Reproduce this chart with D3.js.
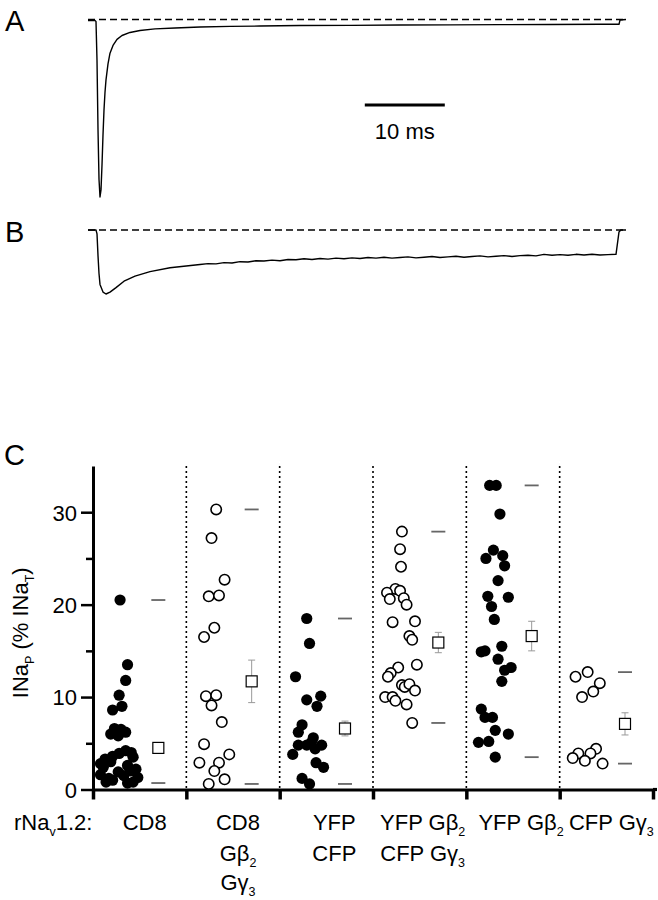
<!DOCTYPE html>
<html><head><meta charset="utf-8">
<script src="https://cdn.jsdelivr.net/npm/d3@7"></script>
<style>
body{margin:0;background:#fff}
svg{display:block}
text{font-family:"Liberation Sans",Arial,Helvetica,sans-serif;fill:#000}
</style>
</head><body>
<svg id="chart" width="658" height="900"></svg>
<script>
// ---------- Trace data (time in ms, current in % of peak) ----------
const traceA_t = [0,0.875,1.0,1.125,1.25,1.375,1.5,1.625,1.75,1.875,2.0,2.125,2.25,2.5,2.75,3.125,3.625,4.25,5.25,6.5,8.375,10.875,14,17.75,21.5,26.5,32.75,39,45.25,51.5,57.75,64,66.375,66.5,67.25];
const traceA_i = [-0.6,-0.6,-1.1,-23,-62,-90,-100,-96,-82,-65,-51,-41,-34,-25,-19,-14.6,-11.2,-9.0,-7.3,-6.2,-5.3,-4.8,-4.2,-3.9,-3.7,-3.4,-3.3,-3.1,-3.0,-2.9,-2.8,-2.7,-2.7,-0.3,0];

const traceB_t = [0,1.0,1.125,1.25,1.375,1.5,1.875,2.25,2.75,3.5,4.5,5.875,7.75,10.25,
  14,15,16,17,18,19,20,21,22,23,24,25,26,27,28,29,30,31,32,33,34,35,36,37,38,39,40,41,42,43,44,45,46,47,48,49,50,51,52,53,54,55,56,57,58,59,60,61,62,63,64,65,66,66.375,66.6,67.25];
const traceB_i = [0,0,-6,-40,-68,-85,-97,-100,-97,-90,-80,-72,-65,-59,
  -54,-52.5,-53,-51,-51.5,-49.5,-50,-48,-48.5,-47,-48,-46,-46.5,-45,-46,-44.5,-45.5,-44,-45,-43.5,-44.5,-43,-44,-42.5,-44,-43,-42,-43.5,-42.5,-41.5,-43,-42,-41,-42.5,-41.5,-40.5,-42,-41,-40,-41.5,-40,-39.5,-40.5,-38,-39.5,-38.5,-39.5,-38,-39,-38,-39,-38.5,-38,-3,0,0];

const scaleBarMs = [34.6, 44.6];
const scaleBarLabel = "10 ms";

// ---------- Scatter data ----------
const groups = ["g1","g2","g3","g4","g5","g6"];
const groupLabels = [
  ["CD8"],
  ["CD8","Gβ{2}","Gγ{3}"],
  ["YFP","CFP"],
  ["YFP Gβ{2}","CFP Gγ{3}"],
  ["YFP Gβ{2}"],
  ["CFP Gγ{3}"]
];
const groupFilled = [true,false,true,false,true,false];
// each point: [jitter (fraction of the group width), INaP value in % INaT]
const pts1 = [[0.29,20.5],[0.37,13.5],[0.35,11.8],[0.28,10.2],[0.31,9.0],[0.21,8.6],
  [0.23,6.6],[0.30,6.5],[0.35,6.2],[0.27,5.8],[0.19,6.0],
  [0.35,4.2],[0.28,3.9],[0.43,3.5],[0.13,3.3],[0.19,3.0],[0.08,2.8],[0.11,2.4],[0.46,2.2],[0.37,2.6],
  [0.27,1.9],[0.33,1.5],[0.17,1.2],[0.21,1.0],[0.14,0.8],[0.43,0.8],[0.37,0.7],[0.08,1.6],[0.21,3.6],
  [0.40,2.0],[0.48,1.3],[0.41,4.0]];
const pts2 = [[0.32,30.3],[0.27,27.2],[0.41,22.7],[0.24,20.9],[0.35,21.0],[0.30,17.5],[0.19,16.5],
  [0.21,10.1],[0.32,10.2],[0.27,9.1],[0.38,7.3],[0.19,4.9],[0.46,3.8],[0.14,2.9],[0.35,2.9],
  [0.30,2.0],[0.41,1.1],[0.24,0.6]];
const pts3 = [[0.29,18.5],[0.32,15.8],[0.17,12.2],[0.44,10.1],[0.29,9.7],[0.40,9.0],[0.24,7.0],
  [0.20,6.2],[0.36,5.6],[0.20,4.8],[0.29,4.8],[0.38,4.4],[0.45,4.8],[0.34,5.1],[0.14,3.8],
  [0.39,2.9],[0.47,2.4],[0.24,1.2],[0.32,0.6]];
const pts4 = [[0.31,27.9],[0.29,26.0],[0.30,24.1],[0.24,21.7],[0.15,21.3],[0.29,21.5],[0.18,20.6],
  [0.33,20.7],[0.36,20.0],[0.21,18.1],[0.45,18.2],[0.39,16.6],[0.42,16.2],[0.47,13.5],[0.27,13.2],
  [0.19,12.6],[0.16,12.2],[0.31,11.3],[0.34,11.1],[0.39,11.4],[0.45,10.7],[0.13,10.0],[0.21,10.0],
  [0.24,9.6],[0.36,9.2],[0.42,7.2]];
const pts5 = [[0.25,32.9],[0.32,32.9],[0.36,29.8],[0.29,25.9],[0.21,25.0],[0.39,25.3],[0.41,24.2],
  [0.34,22.6],[0.23,20.9],[0.45,20.8],[0.27,19.8],[0.30,18.4],[0.16,14.9],[0.20,15.0],[0.38,15.5],
  [0.34,14.1],[0.41,12.9],[0.48,13.2],[0.38,11.7],[0.16,8.7],[0.20,7.8],[0.28,7.8],[0.31,6.4],
  [0.45,6.0],[0.13,5.1],[0.24,5.2],[0.31,3.5]];
const pts6 = [[0.17,12.2],[0.30,12.7],[0.43,11.5],[0.36,10.6],[0.24,10.0],[0.39,4.4],[0.20,3.9],
  [0.33,3.9],[0.14,3.4],[0.27,3.1],[0.46,2.8]];
const groupPoints = [pts1,pts2,pts3,pts4,pts5,pts6];
const groupMean = [4.5, 11.7, 6.6, 15.9, 16.6, 7.1];
const groupSEM  = [0.5, 2.3, 0.8, 1.1, 1.6, 1.2];
const yTicks = [0,10,20,30];
const yMinorTicks = [5,15,25];
const yLabel = "INa{P} (% INa{T})";
const rowLead = "rNa{v}1.2:";

// ---------- Drawing ----------
const svg = d3.select("#chart");
const FONT = 22;
const SUB = 12.5;
const SUBSHIFT = 5.5;
const labelShift = [5,5,8,3,8,5];

function rich(sel, str, size, subSize, subShift){
  const parts = str.split(/(\{[^}]*\})/).filter(s=>s.length);
  let shifted = false;
  parts.forEach(p=>{
    if(p[0]==="{"){
      sel.append("tspan").attr("font-size",subSize).attr("dy",shifted?0:subShift).text(p.slice(1,-1));
      shifted = true;
    } else {
      sel.append("tspan").attr("font-size",size).attr("dy",shifted?-subShift:0).text(p);
      shifted = false;
    }
  });
  return sel;
}

// Traces
const xT = d3.scaleLinear().domain([0,67.25]).range([88,626]);
const yA = d3.scaleLinear().domain([-100,0]).range([197,19.5]);
const yB = d3.scaleLinear().domain([-100,0]).range([294,230]);

function drawTrace(ts, is, yS){
  const line = d3.line().x((d,i)=>xT(ts[i])).y((d,i)=>yS(is[i]));
  svg.append("path").attr("d", line(ts)).attr("fill","none").attr("stroke","#000").attr("stroke-width",1.4).attr("stroke-linejoin","round");
  svg.append("line").attr("x1",xT(0)).attr("x2",xT(67.25)).attr("y1",yS(0)).attr("y2",yS(0))
    .attr("stroke","#000").attr("stroke-width",1.5).attr("stroke-dasharray","7,4");
}
drawTrace(traceA_t, traceA_i, yA);
drawTrace(traceB_t, traceB_i, yB);

svg.append("line").attr("x1",xT(scaleBarMs[0])).attr("x2",xT(scaleBarMs[1])).attr("y1",105).attr("y2",105)
  .attr("stroke","#000").attr("stroke-width",3);
svg.append("text").attr("x",(xT(scaleBarMs[0])+xT(scaleBarMs[1]))/2).attr("y",139).attr("text-anchor","middle")
  .attr("font-size",FONT).text(scaleBarLabel);

svg.append("text").attr("x",5).attr("y",31).attr("font-size",29).text("A");
svg.append("text").attr("x",5).attr("y",242).attr("font-size",29).text("B");
svg.append("text").attr("x",4).attr("y",465).attr("font-size",29).text("C");

// Scatter
const x = d3.scaleBand().domain(groups).range([93,653]).paddingInner(0).paddingOuter(0);
const xLin = d3.scaleLinear().domain([0,groups.length]).range([93,653]);
const y = d3.scaleLinear().domain([0,35]).range([789.5,466]);
const bw = x.bandwidth();
const markerFrac = 0.70;

// dotted separators
svg.append("g").selectAll("line").data(d3.range(1,groups.length)).join("line")
  .attr("x1",d=>xLin(d)).attr("x2",d=>xLin(d)).attr("y1",y(35)).attr("y2",y(0))
  .attr("stroke","#000").attr("stroke-width",1.6).attr("stroke-dasharray","2,3");

// y axis
const yAxis = svg.append("g").attr("transform","translate(93,0)")
  .call(d3.axisLeft(y).tickValues(yTicks).tickSize(12).tickSizeOuter(0).tickPadding(4));
yAxis.select(".domain").attr("stroke-width",3);
yAxis.selectAll(".tick line").attr("stroke-width",2.5);
yAxis.selectAll(".tick text").attr("font-size",FONT).attr("font-family","Liberation Sans, Arial, sans-serif").attr("dy","0.36em");
const yMinor = svg.append("g").attr("transform","translate(93,0)")
  .call(d3.axisLeft(y).tickValues(yMinorTicks).tickSize(7).tickFormat(""));
yMinor.select(".domain").remove();
yMinor.selectAll(".tick line").attr("stroke-width",2.5);

// x axis
const xAxis = svg.append("g").attr("transform",`translate(0,${y(0)})`)
  .call(d3.axisBottom(xLin).tickValues(d3.range(0,groups.length+1)).tickSize(10).tickSizeOuter(0).tickFormat(""));
xAxis.select(".domain").attr("stroke-width",3.2);
xAxis.selectAll(".tick line").attr("stroke-width",3.5);
svg.append("line").attr("x1",xLin(groups.length)).attr("x2",657).attr("y1",y(0)).attr("y2",y(0)).attr("stroke","#000").attr("stroke-width",3.2);

// y label
const yl = svg.append("text").attr("transform",`translate(28,${(y(0)+y(35))/2 + 5}) rotate(-90)`)
  .attr("text-anchor","middle");
rich(yl, yLabel, FONT, SUB, SUBSHIFT);

// points
groups.forEach((g,gi)=>{
  const gx = x(g);
  const gsel = svg.append("g");
  gsel.selectAll("circle").data(groupPoints[gi]).join("circle")
    .attr("cx",d=>gx + d[0]*bw).attr("cy",d=>y(d[1]))
    .attr("r", groupFilled[gi] ? 5.6 : 5.2)
    .attr("fill", groupFilled[gi] ? "#000" : "#fff")
    .attr("stroke","#000").attr("stroke-width", groupFilled[gi] ? 0 : 1.6);
  const mx = gx + markerFrac*bw;
  const ext = d3.extent(groupPoints[gi], d=>d[1]);
  gsel.selectAll("line.rng").data(ext).join("line").attr("class","rng")
    .attr("x1",mx-7).attr("x2",mx+7).attr("y1",d=>y(d)).attr("y2",d=>y(d))
    .attr("stroke","#666").attr("stroke-width",1.8);
  const m = groupMean[gi], s = groupSEM[gi];
  gsel.append("line").attr("x1",mx).attr("x2",mx).attr("y1",y(m-s)).attr("y2",y(m+s)).attr("stroke","#999").attr("stroke-width",1);
  [m-s,m+s].forEach(v=>gsel.append("line").attr("x1",mx-3.5).attr("x2",mx+3.5).attr("y1",y(v)).attr("y2",y(v)).attr("stroke","#999").attr("stroke-width",1));
  gsel.append("rect").attr("x",mx-5.5).attr("y",y(m)-5.5).attr("width",11).attr("height",11)
    .attr("fill","#fff").attr("stroke","#000").attr("stroke-width",1.2);
});

// category labels
const rowY = [830, 861, 890];
groups.forEach((g,gi)=>{
  groupLabels[gi].forEach((lab,li)=>{
    const t = svg.append("text").attr("x",x(g)+bw/2+labelShift[gi]).attr("y",rowY[li]).attr("text-anchor","middle");
    rich(t, lab, FONT, SUB, SUBSHIFT);
  });
});
rich(svg.append("text").attr("x",14).attr("y",rowY[0]), rowLead, FONT, SUB, SUBSHIFT);
</script>
</body></html>
